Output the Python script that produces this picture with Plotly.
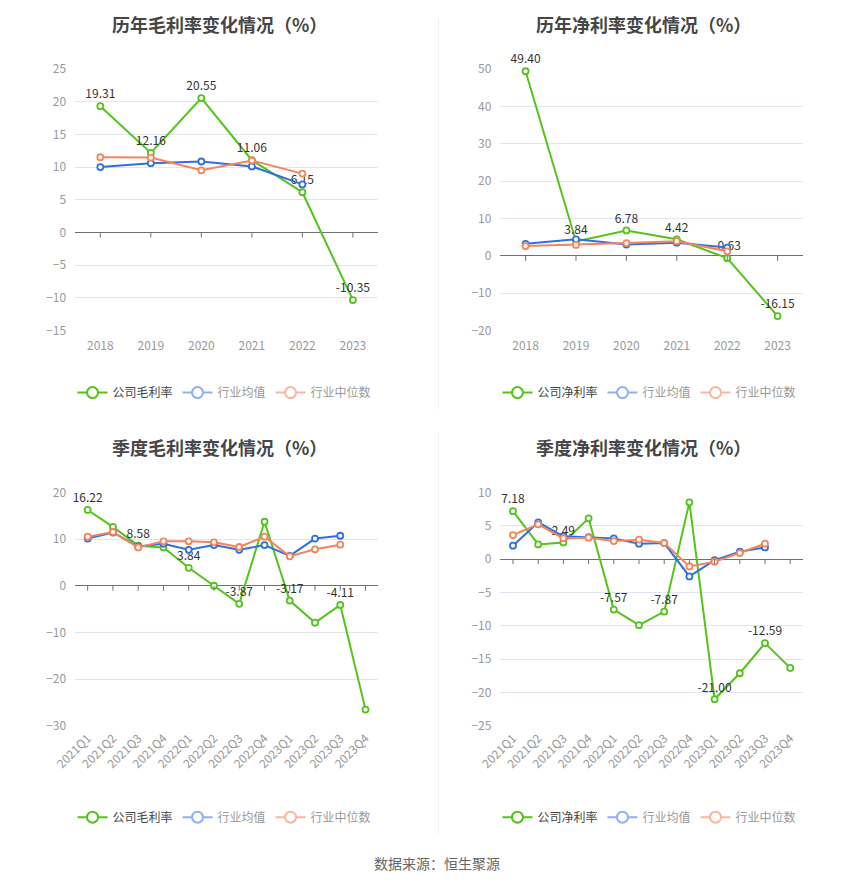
import plotly.graph_objs as go

# categories
years = ['2018', '2019', '2020', '2021', '2022', '2023']
quarters = ['2021Q1', '2021Q2', '2021Q3', '2021Q4',
            '2022Q1', '2022Q2', '2022Q3', '2022Q4',
            '2023Q1', '2023Q2', '2023Q3', '2023Q4']

# annual gross margin (%)
gross_company = [19.31, 12.16, 20.55, 11.06, 6.15, -10.35]
gross_mean = [10.0, 10.6, 10.85, 10.1, 7.35]
gross_median = [11.5, 11.45, 9.5, 11.0, 9.0]

# annual net margin (%)
net_company = [49.40, 3.84, 6.78, 4.42, -0.63, -16.15]
net_mean = [3.2, 4.4, 3.0, 3.5, 2.2]
net_median = [2.6, 2.9, 3.4, 3.9, 1.2]

# quarterly gross margin (%)
q_gross_company = [16.22, 12.6, 8.58, 8.2, 3.84, 0.0, -3.87, 13.7, -3.17, -7.9, -4.11, -26.5]
q_gross_mean = [10.1, 11.4, 8.4, 9.0, 7.7, 8.7, 7.7, 8.7, 6.4, 10.1, 10.7]
q_gross_median = [10.5, 11.5, 8.2, 9.5, 9.5, 9.3, 8.3, 10.5, 6.3, 7.8, 8.8]

# quarterly net margin (%)
q_net_company = [7.18, 2.2, 2.49, 6.1, -7.57, -9.9, -7.87, 8.5, -21.00, -17.1, -12.59, -16.3]
q_net_mean = [2.0, 5.5, 3.4, 3.3, 3.1, 2.3, 2.4, -2.6, -0.15, 1.1, 1.75]
q_net_median = [3.6, 5.2, 3.1, 3.2, 2.7, 2.9, 2.4, -1.1, -0.4, 0.9, 2.3]

GREEN = '#52C41A'
BLUE = '#2F6FE4'
ORANGE = '#F4845A'
FONT = 'Noto Sans CJK SC'

# autosized figure sits inside the page body's 8px margin: 834x875 at (8, 8)
FW, FH = 834, 875
OFF = 8


def px(x):
    return (x - OFF) / FW


def py(y):
    return 1 - (y - OFF) / FH


panels = [
    dict(title='历年毛利率变化情况（%）', cats=years, comp=gross_company, mean=gross_mean,
         median=gross_median, comp_name='公司毛利率', rng=[-15, 25], dtick=5,
         x=[53.3, 365], y=[60, 326.7], title_x=202, title_y=14, leg_x=207, leg_y=390,
         every=1, angle=0),
    dict(title='历年净利率变化情况（%）', cats=years, comp=net_company, mean=net_mean,
         median=net_median, comp_name='公司净利率', rng=[-20, 50], dtick=10,
         x=[490.7, 801.7], y=[60, 326.7], title_x=638, title_y=14, leg_x=644, leg_y=390,
         every=1, angle=0),
    dict(title='季度毛利率变化情况（%）', cats=quarters, comp=q_gross_company, mean=q_gross_mean,
         median=q_gross_median, comp_name='公司毛利率', rng=[-30, 20], dtick=10,
         x=[53.3, 365], y=[491.7, 730], title_x=202, title_y=445, leg_x=207, leg_y=823,
         every=2, angle=-45),
    dict(title='季度净利率变化情况（%）', cats=quarters, comp=q_net_company, mean=q_net_mean,
         median=q_net_median, comp_name='公司净利率', rng=[-25, 10], dtick=5,
         x=[490.7, 801.7], y=[491.7, 730], title_x=638, title_y=445, leg_x=644, leg_y=823,
         every=2, angle=-45),
]

fig = go.Figure()
layout = dict(margin=dict(l=0, r=0, t=0, b=0),
              paper_bgcolor='white', plot_bgcolor='white',
              font=dict(family=FONT, size=12, color='#999'),
              showlegend=True, hovermode=False)
annotations = []
shapes = []

for k, p in enumerate(panels):
    n = k + 1
    xa = 'x' if n == 1 else 'x%d' % n
    ya = 'y' if n == 1 else 'y%d' % n
    leg = 'legend' if n == 1 else 'legend%d' % n

    labels = ['%.2f' % v if i % p['every'] == 0 else '' for i, v in enumerate(p['comp'])]

    fig.add_trace(go.Scatter(
        x=p['cats'], y=p['comp'], xaxis=xa, yaxis=ya, mode='lines+markers+text',
        text=labels, textposition='top center', cliponaxis=False,
        textfont=dict(family=FONT, size=12, color='#333'),
        line=dict(color=GREEN, width=2),
        marker=dict(symbol='circle', size=6, color='white', line=dict(color=GREEN, width=1.8)),
        showlegend=False))
    fig.add_trace(go.Scatter(
        x=p['cats'][:len(p['mean'])], y=p['mean'], xaxis=xa, yaxis=ya, mode='lines+markers',
        line=dict(color=BLUE, width=2), cliponaxis=False,
        marker=dict(symbol='circle', size=6, color='white', line=dict(color=BLUE, width=1.8)),
        showlegend=False))
    fig.add_trace(go.Scatter(
        x=p['cats'][:len(p['median'])], y=p['median'], xaxis=xa, yaxis=ya, mode='lines+markers',
        line=dict(color=ORANGE, width=2), cliponaxis=False,
        marker=dict(symbol='circle', size=6, color='white', line=dict(color=ORANGE, width=1.8)),
        showlegend=False))

    # legend entries
    for name, col, txtcol in [(p['comp_name'], GREEN, '#444'),
                              ('行业均值', '#8FB1F2', '#999'),
                              ('行业中位数', '#F9B79D', '#999')]:
        fig.add_trace(go.Scatter(
            x=[None], y=[None], xaxis=xa, yaxis=ya, mode='lines+markers',
            name='<span style="color:%s">%s</span>' % (txtcol, name),
            line=dict(color=col, width=2),
            marker=dict(symbol='circle', size=11, color='white', line=dict(color=col, width=2)),
            legend=leg))

    xd = [px(p['x'][0]), px(p['x'][1])]
    yd = [py(p['y'][1]), py(p['y'][0])]
    layout['xaxis' if n == 1 else 'xaxis%d' % n] = dict(
        domain=xd, anchor=ya, type='category', range=[-0.5, len(p['cats']) - 0.5],
        showgrid=False, zeroline=False, showline=False, ticks='',
        tickangle=p['angle'], ticklabelstandoff=6 if p['angle'] == 0 else 2,
        tickfont=dict(family=FONT, size=12, color='#999'))
    layout['yaxis' if n == 1 else 'yaxis%d' % n] = dict(
        domain=yd, anchor=xa, range=p['rng'], dtick=p['dtick'],
        showgrid=True, gridcolor='#E0E6F1', gridwidth=1,
        zeroline=True, zerolinecolor='#6E7079', zerolinewidth=1,
        showline=False, ticks='', ticklabelstandoff=8,
        tickfont=dict(family=FONT, size=12, color='#999'))
    layout[leg] = dict(orientation='h', x=px(p['leg_x']), y=py(p['leg_y']),
                       xanchor='center', yanchor='middle', bgcolor='rgba(0,0,0,0)',
                       font=dict(family=FONT, size=12, color='#999'),
                       itemclick=False, itemdoubleclick=False)

    # tick marks hanging from the zero line
    for i in range(len(p['cats'])):
        shapes.append(dict(type='line', xref=xa, yref=ya, x0=i, x1=i,
                           ysizemode='pixel', yanchor=0, y0=0, y1=-5,
                           line=dict(color='#6E7079', width=1)))

    annotations.append(dict(text='<b>%s</b>' % p['title'], xref='paper', yref='paper',
                            x=px(p['title_x']), y=py(p['title_y']),
                            xanchor='center', yanchor='middle', showarrow=False,
                            font=dict(family=FONT, size=18, color='#464646')))

# divider between the two columns
shapes.append(dict(type='line', xref='paper', yref='paper', x0=px(427), x1=px(427),
                   y0=py(407), y1=1, line=dict(color='#EEEEEE', width=1)))
shapes.append(dict(type='line', xref='paper', yref='paper', x0=px(427), x1=px(427),
                   y0=py(840), y1=py(431), line=dict(color='#EEEEEE', width=1)))

annotations.append(dict(text='数据来源：恒生聚源', xref='paper', yref='paper',
                        x=px(425), y=py(870), xanchor='center', yanchor='middle',
                        showarrow=False, font=dict(family=FONT, size=14, color='#666')))

layout['annotations'] = annotations
layout['shapes'] = shapes
fig.update_layout(**layout)

fig.write_html("out.html")
